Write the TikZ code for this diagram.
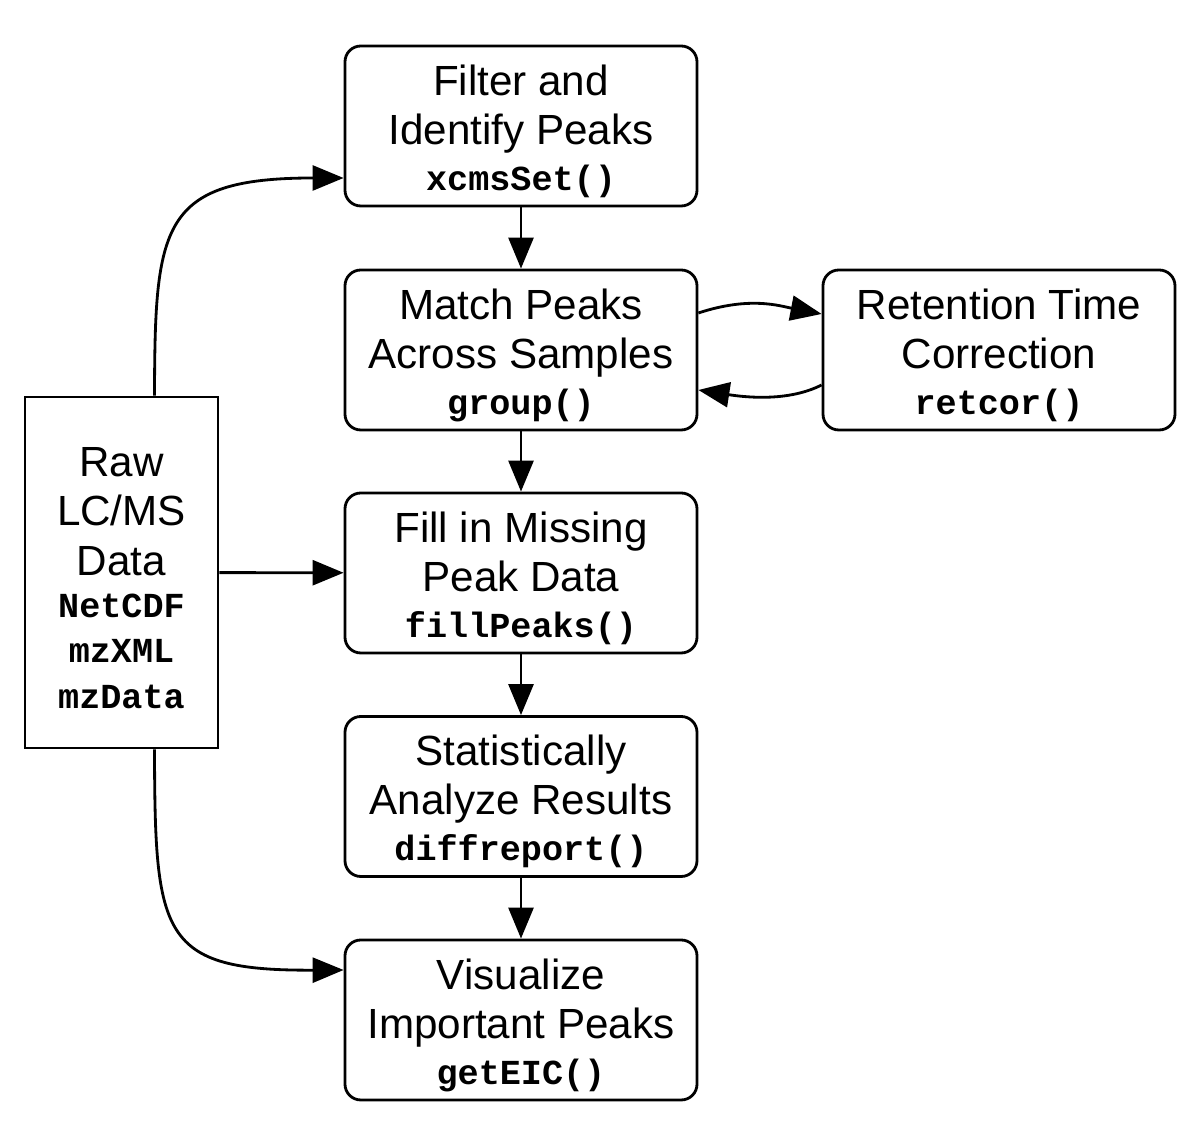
\documentclass[tikz,border=0pt]{standalone}
\usepackage{fontspec}
\setmainfont{Liberation Sans}
\setmonofont{Liberation Mono}
\usepackage{tikz}
\usetikzlibrary{arrows.meta,positioning}

\newcommand{\fn}[1]{{\fontsize{10}{12}\selectfont\ttfamily\bfseries #1}}
\newcommand{\topgap}{\rule{0pt}{11.6pt}}

\begin{document}
\begin{tikzpicture}[
        x=1cm, y=1cm,
        stepbox/.style={draw=black, fill=white, line width=0.8pt, rounded corners=4.5pt, minimum width=3.52cm, minimum height=1.6cm, align=center, font=\fontsize{12}{14}\selectfont, inner sep=0pt},
        srcbox/.style={draw=black, fill=white, line width=0.8pt, minimum width=1.93cm, minimum height=3.51cm, align=center, font=\fontsize{12}{14}\selectfont, inner sep=0pt},
        flow/.style={line width=0.8pt, -{Triangle[length=0.31cm, width=0.25cm]}}
    ]
        \useasboundingbox (0,0) rectangle (12,11.46);

        % Filter step
        \node[stepbox] (filter) at (5.21, 10.20) {
            \topgap Filter and\\
            Identify Peaks\\[-1pt]
            \fn{xcmsSet()}
        };

        % Match step
        \node[stepbox] (match) at (5.21, 7.96) {
            \topgap Match Peaks\\
            Across Samples\\[-1pt]
            \fn{group()}
        };

        % Retention step
        \node[stepbox] (retcor) at (9.99, 7.96) {
            \topgap Retention Time\\
            Correction\\[-1pt]
            \fn{retcor()}
        };

        % Fill step
        \node[stepbox] (fill) at (5.21, 5.73) {
            \topgap Fill in Missing\\
            Peak Data\\[-1pt]
            \fn{fillPeaks()}
        };

        % Statistics step
        \node[stepbox] (stats) at (5.21, 3.495) {
            \topgap Statistically\\
            Analyze Results\\[-1pt]
            \fn{diffreport()}
        };

        % Visualize step
        \node[stepbox] (visual) at (5.21, 1.26) {
            \topgap Visualize\\
            Important Peaks\\[-1pt]
            \fn{getEIC()}
        };

        % Raw data
        \node[srcbox] (raw) at (1.215, 5.735) {
            \topgap Raw\\
            LC/MS\\
            Data\\[-2pt]
            \fn{NetCDF}\\[-1pt]
            \fn{mzXML}\\[-1pt]
            \fn{mzData}
        };

        % Connections
        \draw[flow] (filter) -- (match);
        \draw[flow] (match) -- (fill);
        \draw[flow] (fill) -- (stats);
        \draw[flow] (stats) -- (visual);
        \draw[flow] (raw) -- (fill);
        \draw[flow] ([xshift=3.3mm]raw.north) .. controls (1.55,9.2) and (1.6,9.68) .. ([yshift=-5.2mm]filter.west);
        \draw[flow] ([xshift=3.3mm]raw.south) .. controls (1.55,2.1) and (1.6,1.75) .. ([yshift=5.0mm]visual.west);
        \draw[flow] ([yshift=3.7mm]match.east) .. controls (7.5,8.5) and (7.8,8.4) .. ([yshift=3.6mm]retcor.west);
        \draw[flow] ([yshift=-3.5mm]retcor.west) .. controls (7.9,7.45) and (7.5,7.48) .. ([yshift=-4.0mm]match.east);
    \end{tikzpicture}
\end{document}
